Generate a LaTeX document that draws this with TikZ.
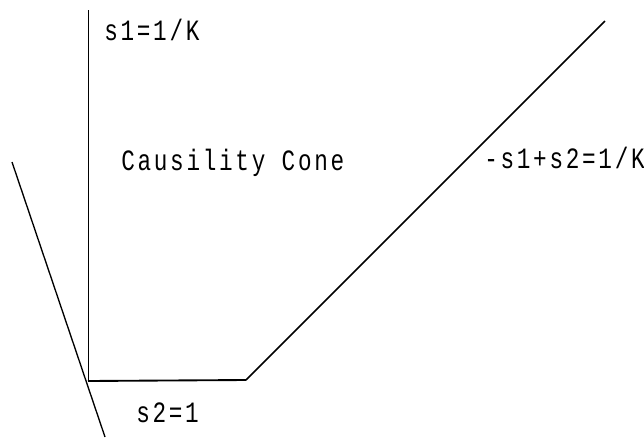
\documentclass[tikz,border=0pt]{standalone}
\usepackage{fontspec}
\newfontfamily\plotter[LetterSpace=12]{Liberation Mono}
\newcommand{\tall}[1]{\scalebox{1}[1.3]{#1}}
\begin{document}
\begin{tikzpicture}[x=0.75pt,y=-0.75pt,
  lbl/.style={font=\plotter\fontsize{17}{20}\selectfont, inner sep=0pt, anchor=west}]
  \useasboundingbox (0,0) rectangle (644,437);
  % cone boundaries
  \coordinate (top) at (88,10);
  \coordinate (corner) at (88,381);
  \coordinate (knee) at (246,380);
  \coordinate (tip) at (605,21);
  \draw[line width=0.6pt] (top) -- (corner);
  \draw[line width=1.4pt] (corner) -- (knee);
  \draw[line width=1.1pt] (knee) -- (tip);
  % steep line through the corner
  \coordinate (upper) at (12,162);
  \coordinate (lower) at (105,437);
  \draw[line width=1pt] (upper) -- (lower);
  % labels
  \node[lbl] (s1) at (104,30) {\tall{s1=1/K}};
  \node[lbl] (cone) at (121,163) {\tall{Causility Cone}};
  \node[lbl] (diag) at (484,158) {\tall{-s1+s2=1/K}};
  \node[lbl] (s2) at (136,413) {\tall{s2=1}};
\end{tikzpicture}
\end{document}
